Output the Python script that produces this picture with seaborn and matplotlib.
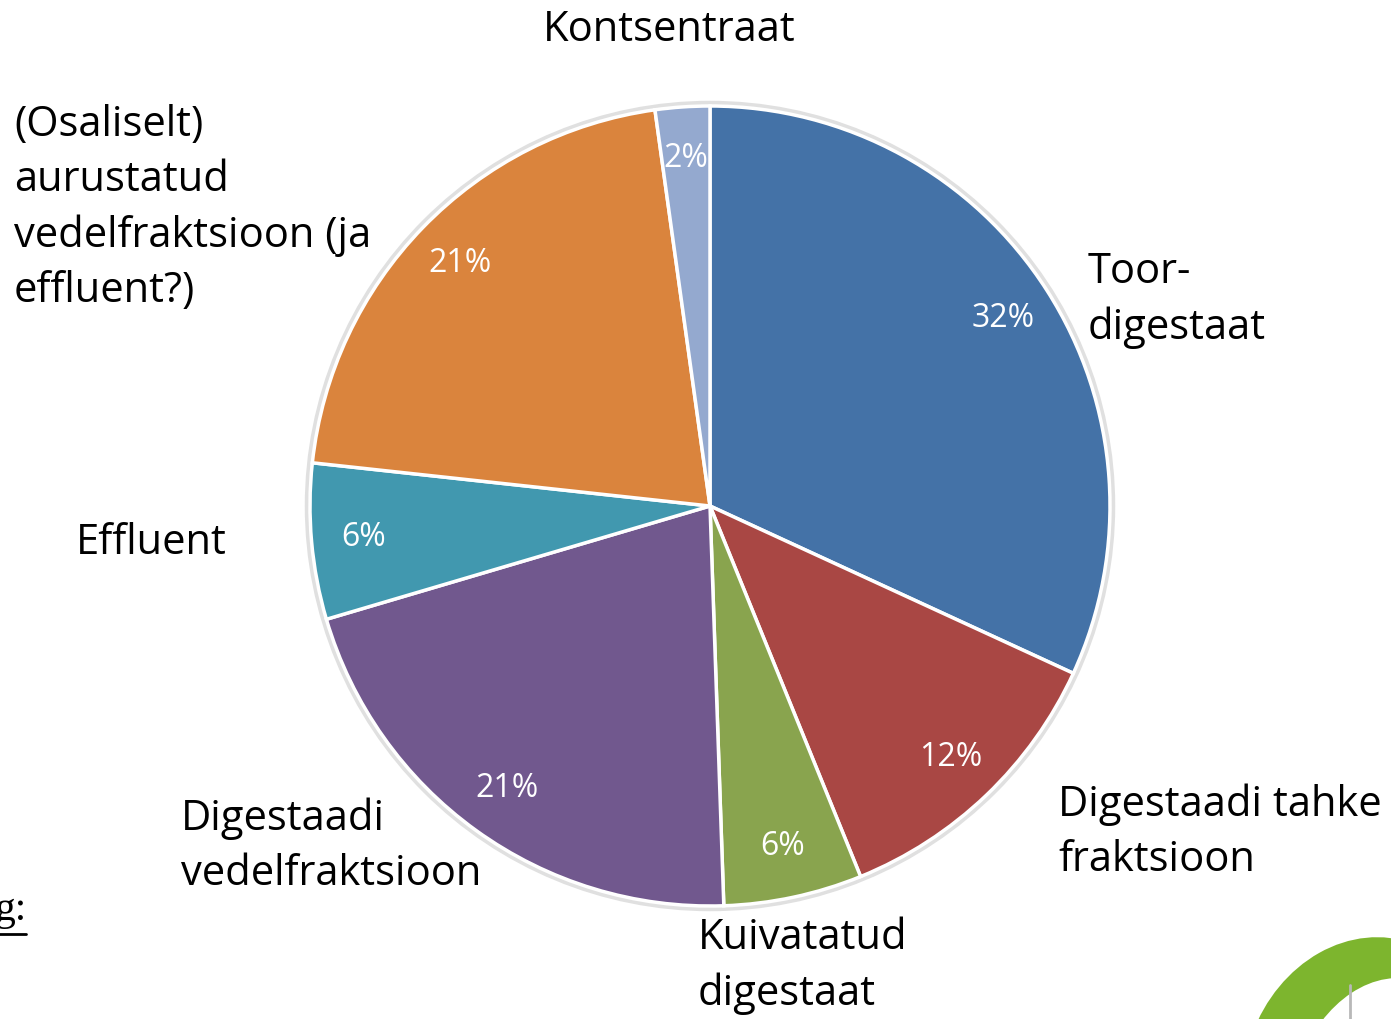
import matplotlib
matplotlib.use("Agg")
import matplotlib.pyplot as plt
import seaborn as sns
from matplotlib.patches import Circle, Ellipse

sns.set_theme(style="white")
plt.rcParams['font.family'] = ['Open Sans', 'DejaVu Sans']

# Data (clockwise from 12 o'clock)
categories = ["Toor-\ndigestaat", "Digestaadi tahke\nfraktsioon", "Kuivatatud\ndigestaat",
              "Digestaadi\nvedelfraktsioon", "Effluent",
              "(Osaliselt)\naurustatud\nvedelfraktsioon (ja\neffluent?)", "Kontsentraat"]
values = [31.9, 12.0, 5.6, 21.0, 6.3, 21.1, 2.2]
colors = ["#4472A7", "#A94744", "#89A44E", "#71588E", "#4198AF", "#DA843D", "#94A9CF"]

# Label layout (pixel positions of the label anchor: x, y, ha)
label_px = [(1088, 300, "left"), (1058, 832, "left"), (698, 966, "left"),
            (181, 846, "left"), (76, 543, "left"), (14, 208, "left"), (669, 30, "center")]

W, H = 1391, 1019
CX, CY, R = 710, 506, 400
fig = plt.figure(figsize=(W / 100, H / 100), dpi=100)
ax = fig.add_axes([0, 0, 1, 1])
ax.set_xlim(-CX / R, (W - CX) / R)
ax.set_ylim(-(H - CY) / R, CY / R)
ax.set_aspect("equal")
ax.axis("off")

# faint outer shadow ring
ax.add_patch(Circle((0, 0), 1.007, facecolor="none", edgecolor="#e0e0e0", lw=3.5, zorder=0))

wedges, texts, autotexts = ax.pie(values, colors=colors, startangle=90, counterclock=False,
                                  autopct="%.0f%%", pctdistance=0.87, radius=1.0,
                                  wedgeprops=dict(edgecolor="white", linewidth=2.5),
                                  textprops=dict(color="white", fontsize=23))
ax.set_xlim(-CX / R, (W - CX) / R)
ax.set_ylim(-(H - CY) / R, CY / R)
for t in autotexts:
    t.set_color("white")
    t.set_fontsize(23)

for lab, (px, py, ha) in zip(categories, label_px):
    ax.text((px - CX) / R, (CY - py) / R, lab, ha=ha, va="center", fontsize=30,
            color="black", linespacing=1.41)

# fragment of slide text at bottom-left
ax.text((-6 - CX) / R, (CY - 910) / R, "g:", ha="left", va="center", fontsize=30,
        family=["Liberation Serif", "DejaVu Serif"], color="black")
ax.plot([(-2 - CX) / R, (26 - CX) / R], [(CY - 934) / R] * 2, color="black", lw=2)

# logo fragment at bottom-right
ax.add_patch(Ellipse(((1365 - CX) / R, (CY - 1075) / R), 240 / R, 280 / R, angle=-20,
                     facecolor="#7DB52E", edgecolor="none", zorder=5))
ax.add_patch(Ellipse(((1380 - CX) / R, (CY - 1090) / R), 170 / R, 230 / R, angle=-20,
                     facecolor="white", edgecolor="none", zorder=6))
ax.plot([(1350 - CX) / R, (1350 - CX) / R], [(CY - 985) / R, (CY - 1019) / R],
        color="#b8b8b8", lw=2, zorder=7)

fig.savefig("out.png", dpi=100)
